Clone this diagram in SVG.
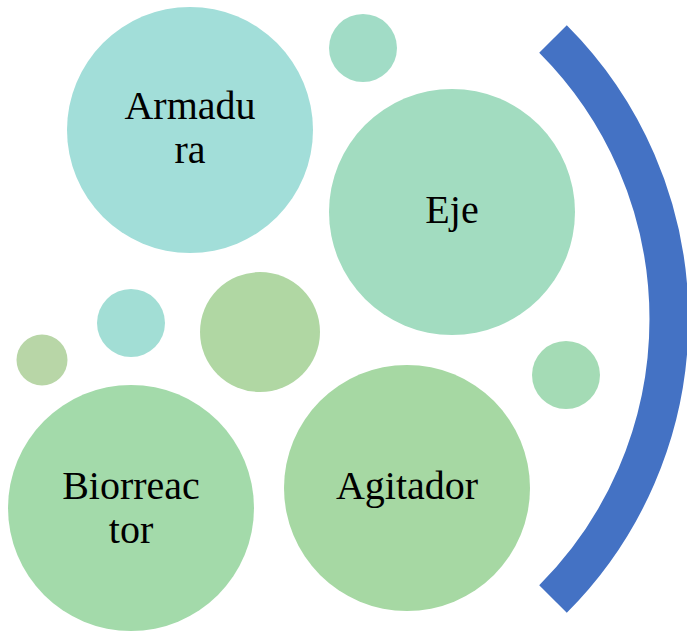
<svg xmlns="http://www.w3.org/2000/svg" width="687" height="633" viewBox="0 0 687 633">
<style>
.t{font-family:'Liberation Serif','Times New Roman',Times,serif;font-size:40px;fill:#000;text-anchor:middle}
</style>
<rect width="687" height="633" fill="#fff"/>
<g id="bracket"><path d="M 553 39 A 396 396 0 0 1 553 599" fill="none" stroke="#4472C4" stroke-width="39"/></g>
<g id="dot-top"><circle cx="363" cy="48" r="34" fill="#A1DCC6"/></g>
<g id="dot-teal"><circle cx="131" cy="323" r="34" fill="#A2DED5"/></g>
<g id="dot-green"><circle cx="260" cy="332" r="60" fill="#B0D7A3"/></g>
<g id="dot-olive"><circle cx="42" cy="360" r="25.5" fill="#B8D6A7"/></g>
<g id="dot-right"><circle cx="566" cy="375" r="34" fill="#A4DBB5"/></g>
<g id="armadura"><circle cx="190" cy="130" r="123" fill="#A2DED9"/><text class="t" x="190" y="119" font-family="Liberation Serif, serif">Armadu</text><text class="t" x="190" y="163" font-family="Liberation Serif, serif">ra</text></g>
<g id="eje"><circle cx="452" cy="212" r="123" fill="#A2DCC0"/><text class="t" x="452" y="223" font-family="Liberation Serif, serif">Eje</text></g>
<g id="biorreactor"><circle cx="131" cy="508" r="123" fill="#A3DAAA"/><text class="t" x="131" y="499" font-family="Liberation Serif, serif">Biorreac</text><text class="t" x="131" y="543" font-family="Liberation Serif, serif">tor</text></g>
<g id="agitador"><circle cx="407" cy="488" r="123" fill="#A6D8A3"/><text class="t" x="407" y="499" font-family="Liberation Serif, serif">Agitador</text></g>
<g id="connectors"></g>
</svg>
